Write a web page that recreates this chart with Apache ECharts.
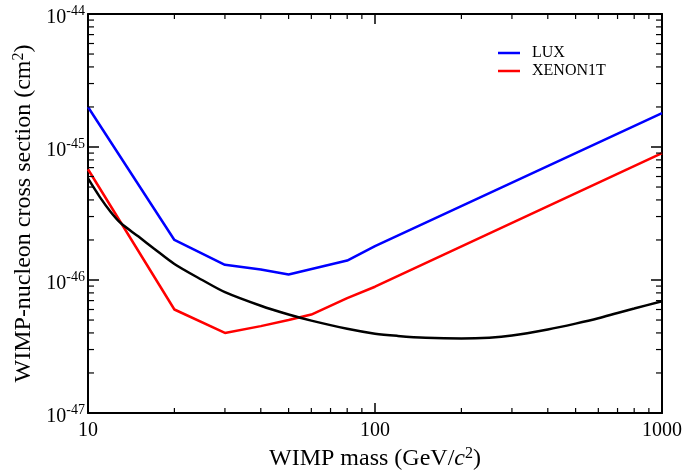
<!DOCTYPE html>
<html>
<head>
<meta charset="utf-8">
<script src="https://cdn.jsdelivr.net/npm/echarts@6/dist/echarts.min.js"></script>
<style>html,body{margin:0;padding:0;background:#fff}#c{width:685px;height:476px}</style>
</head>
<body>
<div id="c"></div>
<script>
// WIMP mass (GeV/c^2)
const luxMass = [10, 20, 30, 40, 50, 80, 100, 1000];
const luxSigma = [2.0e-45, 2.0e-46, 1.3e-46, 1.2e-46, 1.1e-46, 1.4e-46, 1.8e-46, 1.8e-45];
const xenonMass = [10, 20, 30, 40, 50, 60, 80, 100, 1000];
const xenonSigma = [6.8e-46, 6.0e-47, 4.0e-47, 4.5e-47, 5.0e-47, 5.5e-47, 7.3e-47, 8.9e-47, 9.0e-46];
const blackMass = [10, 11, 12, 13, 15, 17, 20, 25, 30, 40, 50, 60, 80, 100, 120, 150, 200, 250, 300, 400, 500, 600, 700, 800, 1000];
const blackSigma = [5.8e-46, 4.2e-46, 3.25e-46, 2.68e-46, 2.12e-46, 1.72e-46, 1.32e-46, 1.0e-46, 8.1e-47, 6.4e-47, 5.5e-47, 4.95e-47, 4.3e-47, 3.95e-47, 3.8e-47, 3.68e-47, 3.63e-47, 3.68e-47, 3.82e-47, 4.25e-47, 4.7e-47, 5.15e-47, 5.65e-47, 6.1e-47, 6.93e-47];
const xTickLabels = [10, 100, 1000];
const yTickLabels = [1e-47, 1e-46, 1e-45, 1e-44];
const seriesNames = ['LUX', 'XENON1T'];

// ECharts' log scale rounds tick values to 10 decimals, so the cross sections
// are plotted in units of 1e-47 cm^2 and the labels add the exponent back.
const UNIT_EXP = -47;
const toUnit = v => v / Math.pow(10, UNIT_EXP);

function minors(decades) {
  const out = [];
  for (let i = 0; i < decades.length - 1; i++) {
    for (let k = 2; k <= 9; k++) out.push(k * decades[i]);
  }
  return out;
}
const yT = yTickLabels.map(toUnit);
const xMinor = minors(xTickLabels);
const yMinor = minors(yT);
const xMin = xTickLabels[0], xMax = xTickLabels[xTickLabels.length - 1];
const yMin = yT[0], yMax = yT[yT.length - 1];
const font = 'Liberation Serif';
const MINOR = 5;

function xAx(pos, show) {
  return {
    type: 'log', logBase: 10, min: xMin, max: xMax, position: pos,
    axisLine: { show: true, onZero: false, lineStyle: { color: '#000', width: 2 } },
    axisTick: { show: true, inside: true, length: 10, lineStyle: { color: '#000', width: 1.5 } },
    axisLabel: { show: show, margin: 8, color: '#000', fontFamily: font, fontSize: 20,
      formatter: v => String(Math.round(v)) },
    splitLine: { show: false }, minorTick: { show: false },
    name: show ? 'WIMP mass (GeV/{i|c}{s|2})' : '', nameLocation: 'middle', nameGap: 31,
    nameTextStyle: { color: '#000', fontFamily: font, fontSize: 24,
      rich: { i: { fontFamily: font, fontSize: 24, fontStyle: 'italic', color: '#000' },
              s: { fontFamily: font, fontSize: 16, color: '#000', verticalAlign: 'top', padding: [0, 0, 10, 0] } } }
  };
}
function yAx(pos, show) {
  return {
    type: 'log', logBase: 10, min: yMin, max: yMax, position: pos,
    axisLine: { show: true, onZero: false, lineStyle: { color: '#000', width: 2 } },
    axisTick: { show: true, inside: true, length: 11, lineStyle: { color: '#000', width: 1.5 } },
    axisLabel: { show: show, margin: 3, color: '#000', fontFamily: font, fontSize: 20,
      formatter: v => '{b|10}{e|' + (Math.round(Math.log10(v)) + UNIT_EXP) + '}',
      rich: { b: { fontFamily: font, fontSize: 20, color: '#000', lineHeight: 20, padding: [8, 0, 0, 0] },
              e: { fontFamily: font, fontSize: 14, color: '#000', lineHeight: 14, verticalAlign: 'top' } } },
    splitLine: { show: false }, minorTick: { show: false },
    name: show ? 'WIMP-nucleon cross section (cm{s|2})' : '', nameLocation: 'middle', nameGap: 51,
    nameTextStyle: { color: '#000', fontFamily: font, fontSize: 24,
      rich: { s: { fontFamily: font, fontSize: 16, color: '#000', verticalAlign: 'top', padding: [0, 0, 10, 0] } } }
  };
}

function tickLine(x1, y1, x2, y2) {
  return { type: 'line', shape: { x1: x1, y1: y1, x2: x2, y2: y2 }, style: { stroke: '#000', lineWidth: 1.2 } };
}

const chart = echarts.init(document.getElementById('c'));
chart.setOption({
  animation: false,
  backgroundColor: '#fff',
  grid: { left: 88, right: 22, top: 13, bottom: 63 },
  legend: {
    data: seriesNames, orient: 'vertical', left: 498, top: 45, padding: 0,
    icon: 'rect', itemWidth: 22, itemHeight: 2.5, itemGap: 2,
    textStyle: { fontFamily: font, fontSize: 16, color: '#000', padding: [0, 0, 0, 7] }
  },
  xAxis: [xAx('bottom', true), xAx('top', false)],
  yAxis: [yAx('left', true), yAx('right', false)],
  series: [
    { name: 'LUX', type: 'line', symbol: 'none', data: luxMass.map((m, i) => [m, toUnit(luxSigma[i])]),
      lineStyle: { color: '#0000ff', width: 2.5 }, itemStyle: { color: '#0000ff' } },
    { name: 'XENON1T', type: 'line', symbol: 'none', data: xenonMass.map((m, i) => [m, toUnit(xenonSigma[i])]),
      lineStyle: { color: '#ff0000', width: 2.5 }, itemStyle: { color: '#ff0000' } },
    { name: 'curve', type: 'line', symbol: 'none', smooth: 0.3, data: blackMass.map((m, i) => [m, toUnit(blackSigma[i])]),
      lineStyle: { color: '#000', width: 2.5 }, itemStyle: { color: '#000' } },
    { name: 'xminor', type: 'custom', silent: true, clip: false, z: 5,
      data: xMinor.map(v => [v, yMin]),
      renderItem: (params, api) => {
        const v = api.value(0);
        const b = api.coord([v, yMin]);
        const t = api.coord([v, yMax]);
        return { type: 'group', children: [tickLine(b[0], b[1], b[0], b[1] - MINOR), tickLine(t[0], t[1], t[0], t[1] + MINOR)] };
      } },
    { name: 'yminor', type: 'custom', silent: true, clip: false, z: 5,
      data: yMinor.map(v => [xMin, v]),
      renderItem: (params, api) => {
        const v = api.value(1);
        const l = api.coord([xMin, v]);
        const r = api.coord([xMax, v]);
        return { type: 'group', children: [tickLine(l[0], l[1], l[0] + MINOR + 1, l[1]), tickLine(r[0], r[1], r[0] - MINOR - 1, r[1])] };
      } }
  ]
});
</script>
</body>
</html>
